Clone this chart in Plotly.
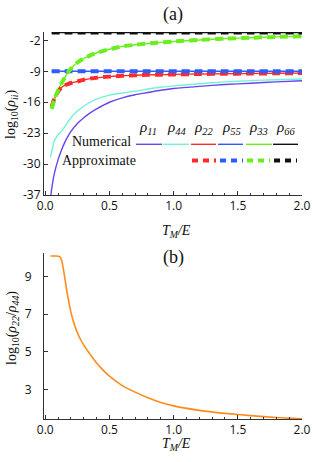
import plotly.graph_objects as go

# ---------------- data ----------------
T_a = [0.04, 0.05, 0.07, 0.1, 0.125, 0.15, 0.175, 0.2, 0.25, 0.3, 0.35, 0.4,
       0.5, 0.6, 0.7, 0.8, 0.9, 1.0, 1.2, 1.4, 1.6, 1.8, 2.0]
rho11 = [-38.0, -35.6, -32.2, -29.0, -26.9, -25.2, -23.8, -22.6, -20.8, -19.5, -18.4, -17.5,
         -16.0, -15.0, -14.3, -13.8, -13.3, -12.9, -12.4, -12.0, -11.7, -11.4, -11.15]
rho44 = [-28.5, -27.2, -24.8, -23.3, -22.6, -21.6, -20.5, -19.5, -18.0, -16.9, -16.0, -15.3,
         -14.4, -13.9, -13.5, -13.0, -12.6, -12.3, -11.8, -11.4, -11.1, -10.9, -10.75]

T_b = [0.05, 0.07, 0.1, 0.125, 0.15, 0.175, 0.2, 0.25, 0.3, 0.35, 0.4,
       0.5, 0.6, 0.7, 0.8, 0.9, 1.0, 1.2, 1.4, 1.6, 1.8, 2.0]
rho22 = [-17.0, -15.2, -13.6, -12.7, -12.2, -11.9, -11.65, -11.3, -10.9, -10.65, -10.45,
         -10.2, -10.0, -9.9, -9.8, -9.75, -9.7, -9.6, -9.55, -9.5, -9.45, -9.4]
rho33 = [-17.5, -15.5, -13.3, -11.8, -10.5, -9.3, -8.4, -7.0, -6.1, -5.4, -4.8,
         -4.0, -3.35, -3.0, -2.7, -2.45, -2.25, -1.9, -1.6, -1.4, -1.2, -1.05]
rho55 = [-9.0] * len(T_b)
rho66 = [-0.2] * len(T_b)

T_c = [0.04, 0.08, 0.11, 0.12, 0.13, 0.14, 0.155, 0.17, 0.185, 0.2, 0.22, 0.245, 0.27, 0.3,
       0.35, 0.4, 0.45, 0.5, 0.6, 0.7, 0.8, 0.9, 1.0, 1.2, 1.4, 1.6, 1.8, 2.0]
ratio = [10.1, 10.1, 10.08, 10.0, 9.8, 9.45, 8.8, 8.15, 7.6, 7.1, 6.6, 6.1, 5.72, 5.35,
         4.85, 4.4, 4.02, 3.7, 3.2, 2.85, 2.55, 2.3, 2.12, 1.88, 1.72, 1.6, 1.5, 1.43]

yticks_a = [-37, -30, -23, -16, -9, -2]
yticks_b = [3, 5, 7, 9]
xticks = [0.0, 0.5, 1.0, 1.5, 2.0]
xticklabels = ["0.0", "0.5", "1.0", "1.5", "2.0"]
legend_names = ["ρ<sub>11</sub>", "ρ<sub>44</sub>", "ρ<sub>22</sub>",
                "ρ<sub>55</sub>", "ρ<sub>33</sub>", "ρ<sub>66</sub>"]

# ---------------- styles ----------------
C_PURPLE = "#6646ee"
C_CYAN = "#72f2d6"
C_RED = "#ff2b2b"
C_BLUE = "#2d5cff"
C_GREEN = "#6aee1e"
C_BLACK = "#111111"
C_ORANGE = "#ff8c1a"
SERIF = "Liberation Serif"
SANS = "Open Sans"

W, H = 312, 462
ML, MR = 44, 10
PW = W - ML - MR


def px(x):
    return (x - ML) / PW


def py(y):
    return 1 - y / H


fig = go.Figure()

num_series = [(T_a, rho11, C_PURPLE), (T_a, rho44, C_CYAN), (T_b, rho22, C_RED),
              (T_b, rho55, C_BLUE), (T_b, rho33, C_GREEN), (T_b, rho66, C_BLACK)]
for xs, ys, c in num_series:
    fig.add_trace(go.Scatter(x=xs, y=ys, mode="lines",
                             line=dict(color=c, width=1.4, shape="spline", smoothing=0.7),
                             xaxis="x", yaxis="y", showlegend=False, hoverinfo="skip"))

approx_series = [(T_b, rho22, C_RED), (T_b, rho55, C_BLUE), (T_b, rho33, C_GREEN), (T_b, rho66, C_BLACK)]
for xs, ys, c in approx_series:
    fig.add_trace(go.Scatter(x=xs, y=ys, mode="lines",
                             line=dict(color=c, width=4, dash="8px,5px", shape="spline", smoothing=0.7),
                             xaxis="x", yaxis="y", showlegend=False, hoverinfo="skip"))

fig.add_trace(go.Scatter(x=T_c, y=ratio, mode="lines",
                         line=dict(color=C_ORANGE, width=1.6, shape="spline", smoothing=0.6),
                         xaxis="x2", yaxis="y2", showlegend=False, hoverinfo="skip"))

axis_common = dict(showline=True, linecolor="#333", linewidth=1, ticks="inside", ticklen=4,
                   tickcolor="#333", showgrid=False, zeroline=False, mirror=False,
                   tickfont=dict(family=SANS, size=12, color="#111"), automargin=False)

fig.update_layout(
    width=W, height=H, margin=dict(l=ML, r=MR, t=0, b=0),
    paper_bgcolor="white", plot_bgcolor="white", showlegend=False,
    xaxis=dict(domain=[0, 1], anchor="y", range=[-0.01, 2.0], tickvals=xticks, ticktext=xticklabels,
               minor=dict(dtick=0.1, ticks="inside", ticklen=2, tickcolor="#333"), **axis_common),
    yaxis=dict(domain=[py(195), py(32)], anchor="x", range=[-37, -0.1], tickvals=yticks_a,
               ticktext=[str(v) for v in yticks_a], **axis_common),
    xaxis2=dict(domain=[0, 1], anchor="y2", range=[-0.01, 2.0], tickvals=xticks, ticktext=xticklabels,
                minor=dict(dtick=0.1, ticks="inside", ticklen=2, tickcolor="#333"), **axis_common),
    yaxis2=dict(domain=[py(419), py(253)], anchor="x2", range=[1.42, 10.26], tickvals=yticks_b,
                ticktext=[str(v) for v in yticks_b], ticklabelstandoff=9, **axis_common),
)

ann = []


def text(x, y, s, size=14, angle=0, xanchor="center", family=SERIF):
    ann.append(dict(x=px(x), y=py(y), xref="paper", yref="paper", text=s, showarrow=False,
                    font=dict(family=family, size=size, color="#111"), textangle=angle,
                    xanchor=xanchor, yanchor="middle"))


text(173, 15, "(a)", size=18)
text(173, 257, "(b)", size=18)
text(176, 231, "<i>T<sub>M</sub>/E</i>", size=14)
text(176, 444, "<i>T<sub>M</sub>/E</i>", size=14)
text(12, 114, "log<sub>10</sub>(<i>ρ<sub>ii</sub></i>)", size=14, angle=-90)
text(12, 328, "log<sub>10</sub>(<i>ρ<sub>22</sub></i>/<i>ρ<sub>44</sub></i>)", size=14, angle=-90)
text(133, 141, "Numerical", size=14, xanchor="right")
text(60, 160, "Approximate", size=14, xanchor="left")

label_cx = [148, 176, 203, 231, 258, 285]
for cx, name in zip(label_cx, legend_names):
    text(cx, 128, "<i>" + name + "</i>", size=15)
fig.update_layout(annotations=ann)

shapes = []
num_seg = [(136, 162, C_PURPLE), (163, 189, C_CYAN), (191, 216, C_RED),
           (218, 243, C_BLUE), (246, 272, C_GREEN), (273, 298, C_BLACK)]
for x0, x1, c in num_seg:
    shapes.append(dict(type="line", xref="paper", yref="paper", x0=px(x0), x1=px(x1),
                       y0=py(144.3), y1=py(144.3), line=dict(color=c, width=1.4)))
app_seg = [(192, 216, C_RED), (220, 243, C_BLUE), (247, 270, C_GREEN), (274, 297, C_BLACK)]
for x0, x1, c in app_seg:
    shapes.append(dict(type="line", xref="paper", yref="paper", x0=px(x0), x1=px(x1),
                       y0=py(160.5), y1=py(160.5), line=dict(color=c, width=4, dash="6px,5px")))
fig.update_layout(shapes=shapes)

fig.write_html("out.html", post_script="document.body.style.margin='0';",
               config={"displayModeBar": False})
